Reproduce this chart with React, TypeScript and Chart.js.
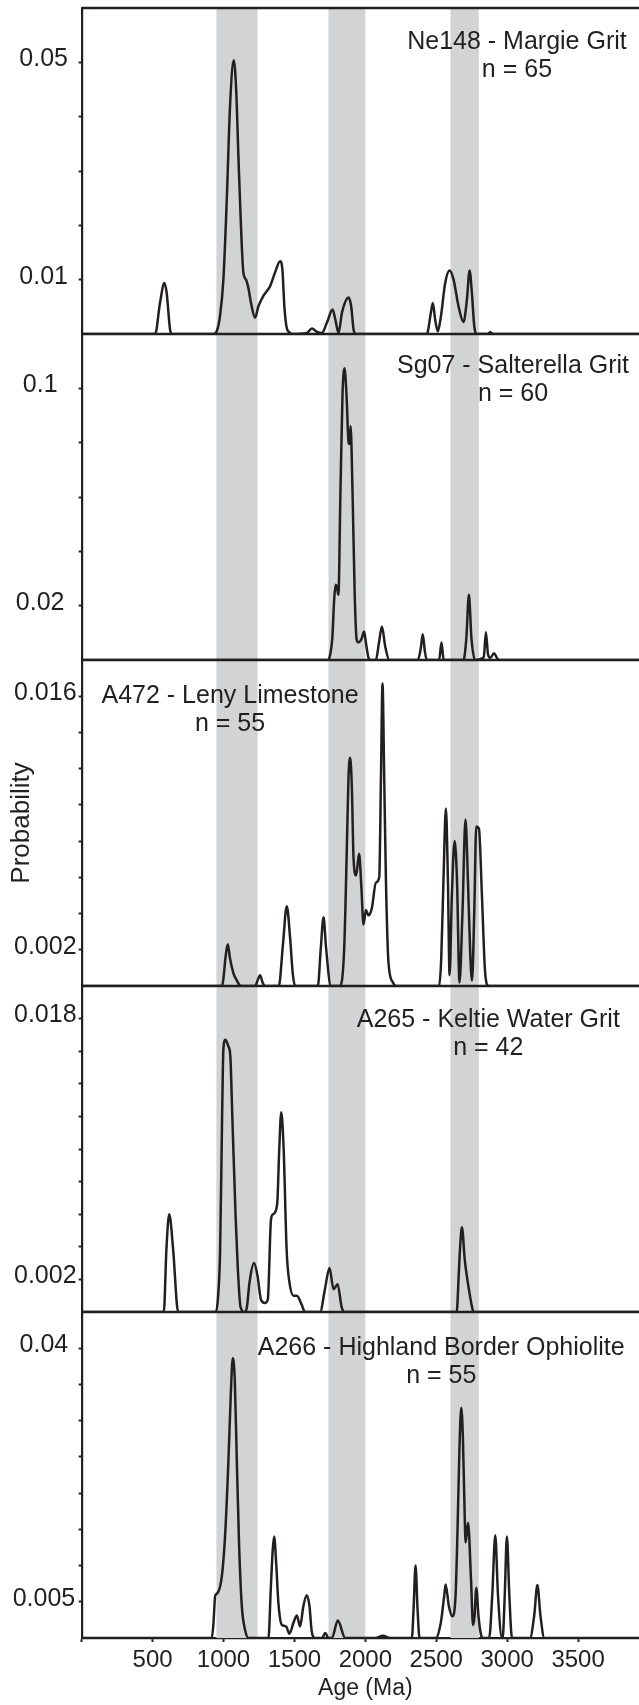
import React, { useEffect, useRef } from 'react';
import { Chart, registerables } from 'chart.js';

Chart.register(...registerables);

const INK = '#231f20';
const BAND_COLOR = '#d1d3d4';
const FONT = '"Liberation Sans", Arial, Helvetica, sans-serif';

// x axis (Age, Ma)
const ageTicks = [0, 500, 1000, 1500, 2000, 2500, 3000, 3500];
const ageMax = 4000;
// shaded age bands [from, to]
const bands = [
  [950, 1240],
  [1740, 2000],
  [2600, 2800],
];

// samples
const sampleNames = [
  'Ne148 - Margie Grit',
  'Sg07 - Salterella Grit',
  'A472 - Leny Limestone',
  'A265 - Keltie Water Grit',
  'A266 - Highland Border Ophiolite',
];
const sampleCounts = [65, 60, 55, 42, 55];

// y ranges and ticks per panel
const panelMax = [0.06, 0.12, 0.018, 0.02, 0.045];
const ne148Ticks = [0.01, 0.02, 0.03, 0.04, 0.05];
const sg07Ticks = [0.02, 0.04, 0.06, 0.08, 0.1];
const a472Ticks = [0.002, 0.004, 0.006, 0.008, 0.01, 0.012, 0.014, 0.016];
const a265Ticks = [0.002, 0.004, 0.006, 0.008, 0.01, 0.012, 0.014, 0.016, 0.018];
const a266Ticks = [0.005, 0.01, 0.015, 0.02, 0.025, 0.03, 0.035, 0.04];
const panelTicks = [ne148Ticks, sg07Ticks, a472Ticks, a265Ticks, a266Ticks];
const labeledTicks = [
  [0.01, 0.05],
  [0.02, 0.1],
  [0.002, 0.016],
  [0.002, 0.018],
  [0.005, 0.04],
];
// label alignment per panel (how the tick labels sit in the left margin)
const labelAlign = ['near', 'center', 'far', 'far', 'center'];
const labelPadding = [10.7, 14.2, 4, 4, 3.5];

// probability density curves: [age (Ma), probability]
const ne148 = [
  [0, 0], [500, 0], [518, 0], [552, 0.0057], [583, 0.0094], [599, 0.0076], [623, 0.0008], [635, 0],
  [930, 0], [952, 0.0005], [975, 0.0033], [999, 0.01], [1023, 0.0248], [1046, 0.042], [1072, 0.0504],
  [1089, 0.045], [1105, 0.0327], [1122, 0.0205], [1140, 0.0113], [1159, 0.01], [1175, 0.0085],
  [1194, 0.0057], [1222, 0.003], [1246, 0.0051], [1281, 0.007], [1328, 0.0088], [1363, 0.0113],
  [1399, 0.0134], [1415, 0.0119], [1429, 0.0051], [1446, 0.0011], [1470, 0.0002], [1480, 0],
  [1588, 0.0002], [1623, 0.001], [1658, 0.0004], [1694, 0.0002], [1729, 0.0021], [1769, 0.0045],
  [1788, 0.0027], [1811, 0.0002], [1835, 0.0039], [1882, 0.0067], [1900, 0.0051], [1917, 0.0008],
  [1933, 0], [2430, 0], [2438, 0.0002], [2462, 0.0039], [2476, 0.0057], [2492, 0.0027], [2511, 0.0005],
  [2533, 0.0033], [2563, 0.0094], [2594, 0.0117], [2622, 0.01], [2657, 0.0051], [2692, 0.0022],
  [2716, 0.0063], [2735, 0.0117], [2751, 0.0076], [2768, 0.0014], [2787, 0], [2860, 0], [2881, 0.0003],
  [2900, 0], [4000, 0],
];

const sg07 = [
  [0, 0], [1738, 0], [1752, 0.002], [1767, 0.008], [1780, 0.022], [1790, 0.0277], [1799, 0.027],
  [1810, 0.024], [1824, 0.0609], [1839, 0.0978], [1853, 0.1074], [1867, 0.0978], [1882, 0.08],
  [1889, 0.0795], [1896, 0.0861], [1910, 0.0609], [1925, 0.024], [1939, 0.0074], [1953, 0.0065],
  [1975, 0.008], [1991, 0.0105], [2005, 0.006], [2022, 0.0008], [2035, 0], [2074, 0], [2095, 0.006],
  [2117, 0.0123], [2140, 0.005], [2169, 0], [2370, 0], [2390, 0.004], [2405, 0.0095], [2420, 0.003],
  [2434, 0], [2520, 0], [2537, 0.0064], [2552, 0], [2692, 0], [2712, 0.008], [2730, 0.024],
  [2748, 0.008], [2773, 0], [2835, 0.001], [2850, 0.0102], [2865, 0.002], [2880, 0.0008],
  [2908, 0.0025], [2930, 0.0005], [2945, 0], [4000, 0],
];

const a472 = [
  [0, 0], [990, 0], [999, 0.0004], [1016, 0.0017], [1030, 0.0023], [1046, 0.0015], [1070, 0.0007],
  [1094, 0.0003], [1122, 0], [1223, 0], [1240, 0.0003], [1258, 0.0006], [1275, 0.0002], [1293, 0],
  [1390, 0], [1418, 0.0022], [1446, 0.0044], [1470, 0.0026], [1488, 0.0007], [1505, 0], [1665, 0],
  [1686, 0.0021], [1705, 0.0038], [1723, 0.0021], [1757, 0], [1822, 0], [1851, 0.0021], [1870, 0.0078],
  [1881, 0.0115], [1893, 0.0126], [1905, 0.0109], [1917, 0.007], [1935, 0.0061], [1956, 0.0073],
  [1971, 0.0056], [1987, 0.0034], [2004, 0.0042], [2022, 0.0039], [2046, 0.0043], [2074, 0.0057],
  [2098, 0.006], [2110, 0.0115], [2121, 0.0167], [2133, 0.0115], [2145, 0.0059], [2163, 0.0013],
  [2194, 0.0002], [2216, 0], [2520, 0], [2535, 0.0015], [2551, 0.0059], [2568, 0.0098], [2582, 0.0059],
  [2594, 0.0006], [2610, 0.005], [2629, 0.008], [2646, 0.0059], [2664, 0.0002], [2685, 0.0041],
  [2706, 0.0092], [2723, 0.0059], [2739, 0.0019], [2752, 0.0003], [2768, 0.0041], [2782, 0.0088],
  [2801, 0.0087], [2822, 0.005], [2845, 0.0007], [2869, 0], [4000, 0],
];

const a265 = [
  [0, 0], [579, 0], [597, 0.0038], [617, 0.006], [645, 0.0038], [680, 0], [947, 0], [962, 0.001],
  [976, 0.0038], [990, 0.012], [999, 0.0161], [1013, 0.0167], [1034, 0.0163], [1048, 0.0157],
  [1062, 0.012], [1085, 0.0059], [1100, 0.0028], [1120, 0.0003], [1149, 0], [1165, 0.0003],
  [1183, 0.0018], [1215, 0.003], [1240, 0.0022], [1264, 0.00075], [1292, 0.00055], [1312, 0.00075],
  [1335, 0.0057], [1350, 0.006], [1378, 0.0066], [1393, 0.01], [1407, 0.01225], [1424, 0.01],
  [1445, 0.0038], [1465, 0.0018], [1494, 0.001], [1517, 0.001], [1551, 0.00045], [1575, 0], [1681, 0],
  [1715, 0.0014], [1747, 0.0027], [1776, 0.0014], [1804, 0.0017], [1833, 0.0003], [1853, 0], [2644, 0],
  [2658, 0.0022], [2667, 0.0038], [2681, 0.0052], [2701, 0.0032], [2730, 0.0014], [2758, 0.0001],
  [2767, 0], [4000, 0],
];

const a266 = [
  [0, 0], [917, 0], [929, 0.002], [941, 0.0058], [957, 0.0062], [988, 0.0085], [1011, 0.0141],
  [1034, 0.0242], [1051, 0.0335], [1065, 0.0386], [1079, 0.0358], [1094, 0.0242], [1110, 0.0127],
  [1129, 0.0044], [1152, 0.0011], [1176, 0], [1317, 0], [1333, 0.0067], [1347, 0.0122], [1357, 0.014],
  [1371, 0.0104], [1387, 0.0048], [1411, 0.0018], [1441, 0.0016], [1465, 0.0006], [1493, 0.0021],
  [1517, 0.0031], [1540, 0.0016], [1563, 0.0044], [1587, 0.0059], [1606, 0.0044], [1622, 0.0009],
  [1646, 0], [1695, 0], [1717, 0.0007], [1740, 0], [1764, 0], [1806, 0.0024], [1858, 0], [2070, 0],
  [2124, 0.0003], [2175, 0], [2328, 0], [2340, 0.004], [2354, 0.01], [2368, 0.004], [2382, 0],
  [2497, 0], [2532, 0.0021], [2556, 0.0058], [2566, 0.0074], [2589, 0.0044], [2613, 0.003],
  [2636, 0.0058], [2650, 0.015], [2664, 0.0265], [2676, 0.0318], [2688, 0.0275], [2700, 0.0173],
  [2707, 0.0132], [2724, 0.0159], [2745, 0.0081], [2759, 0.0018], [2770, 0.003], [2782, 0.0069],
  [2798, 0.003], [2815, 0.0005], [2830, 0], [2873, 0], [2895, 0.006], [2916, 0.0142], [2935, 0.006],
  [2963, 0], [2968, 0], [2983, 0.006], [2998, 0.014], [3015, 0.006], [3034, 0], [3161, 0],
  [3190, 0.003], [3213, 0.0073], [3235, 0.003], [3262, 0], [4000, 0],
];

const curves = [ne148, sg07, a472, a265, a266];

// where each sample's caption is anchored (age, probability of first line baseline)
const captionAnchors = [
  [3069, 0.0524],
  [3041, 0.1058],
  [1046, 0.0156],
  [2867, 0.01748],
  [2535, 0.0391],
];

const yIds = ['y1', 'y2', 'y3', 'y4', 'y5'];

const decorPlugin = {
  id: 'panelDecor',
  beforeDatasetsDraw(chart: any) {
    const { ctx, chartArea } = chart;
    const xs = chart.scales.x;
    ctx.save();
    ctx.fillStyle = BAND_COLOR;
    for (const [a, b] of bands) {
      const x0 = xs.getPixelForValue(a);
      const x1 = xs.getPixelForValue(b);
      ctx.fillRect(x0, chartArea.top, x1 - x0, chartArea.bottom - chartArea.top);
    }
    ctx.strokeStyle = INK;
    ctx.lineWidth = 2.4;
    for (const id of yIds) {
      const s = chart.scales[id];
      ctx.beginPath();
      ctx.moveTo(chartArea.left, s.top);
      ctx.lineTo(chartArea.right, s.top);
      ctx.stroke();
    }
    ctx.restore();
  },
  afterDatasetsDraw(chart: any) {
    const { ctx } = chart;
    const xs = chart.scales.x;
    ctx.save();
    ctx.fillStyle = INK;
    ctx.font = `25px ${FONT}`;
    ctx.textAlign = 'center';
    ctx.textBaseline = 'alphabetic';
    captionAnchors.forEach(([age, p], i) => {
      const ys = chart.scales[yIds[i]];
      const x = xs.getPixelForValue(age);
      const y = ys.getPixelForValue(p);
      ctx.fillText(sampleNames[i], x, y);
      ctx.fillText(`n = ${sampleCounts[i]}`, x, y + 28);
    });
    ctx.restore();
  },
};

function makeYScale(i: number) {
  const max = panelMax[i];
  return {
    type: 'linear',
    position: 'left',
    stack: 'panels',
    stackWeight: 1,
    weight: 5 - i,
    min: 0,
    max,
    afterBuildTicks: (scale: any) => {
      scale.ticks = [0, ...panelTicks[i], max].map((v) => ({ value: v }));
    },
    afterFit: (scale: any) => {
      scale.width = 67.7;
      scale.paddingTop = 0;
      scale.paddingBottom = 0;
    },
    ticks: {
      callback: (v: number) => {
        if (Math.abs(v) < 1e-12 || Math.abs(v - max) < 1e-12) return null;
        const hit = labeledTicks[i].find((l) => Math.abs(l - v) < 1e-9);
        return hit !== undefined ? String(hit) : '';
      },
      crossAlign: labelAlign[i],
      padding: labelPadding[i],
      labelOffset: -3,
      color: INK,
      font: { family: FONT, size: 25 },
      autoSkip: false,
    },
    grid: {
      display: true,
      drawOnChartArea: false,
      drawTicks: true,
      tickLength: 3,
      tickWidth: 2,
      tickColor: INK,
      color: INK,
    },
    border: { display: true, color: INK, width: 2.2 },
    title:
      i === 2
        ? {
            display: true,
            text: 'Probability',
            color: INK,
            font: { family: FONT, size: 26, lineHeight: 0.62 },
            padding: 0,
          }
        : { display: false },
  };
}

export default function App() {
  const ref = useRef<HTMLCanvasElement | null>(null);

  useEffect(() => {
    document.body.style.margin = '0';
    const canvas = ref.current;
    if (!canvas) return;
    const scales: any = {
      x: {
        type: 'linear',
        position: 'bottom',
        min: 0,
        max: ageMax,
        afterBuildTicks: (scale: any) => {
          scale.ticks = ageTicks.map((v) => ({ value: v }));
        },
        afterFit: (scale: any) => {
          scale.height = 67;
          scale.paddingLeft = 0;
          scale.paddingRight = 0;
        },
        ticks: {
          callback: (v: number) => (v === 0 ? '' : String(v)),
          padding: 4,
          color: INK,
          font: { family: FONT, size: 24 },
          maxRotation: 0,
          autoSkip: false,
        },
        grid: {
          display: true,
          drawOnChartArea: false,
          drawTicks: true,
          tickLength: 4,
          tickWidth: 2,
          tickColor: INK,
        },
        border: { display: true, color: INK, width: 2.2 },
        title: {
          display: true,
          text: 'Age (Ma)',
          color: INK,
          font: { family: FONT, size: 23 },
          padding: { top: 0, bottom: 2.5 },
        },
      },
    };
    yIds.forEach((id, i) => {
      scales[id] = makeYScale(i);
    });

    const chart = new Chart(canvas, {
      type: 'line',
      data: {
        datasets: curves.map((c, i) => ({
          label: sampleNames[i],
          data: c.map(([x, y]) => ({ x, y })),
          xAxisID: 'x',
          yAxisID: yIds[i],
          borderColor: INK,
          borderWidth: 2.5,
          pointRadius: 0,
          fill: false,
          cubicInterpolationMode: 'monotone',
        })),
      },
      options: {
        responsive: false,
        animation: false,
        devicePixelRatio: 1,
        layout: { padding: { left: 14, top: 8, right: 0, bottom: 0 } },
        plugins: {
          legend: { display: false },
          tooltip: { enabled: false },
          title: { display: false },
        },
        events: [],
        scales,
      } as any,
      plugins: [decorPlugin],
    });
    return () => chart.destroy();
  }, []);

  return (
    <div
      style={{
        position: 'absolute',
        left: 0,
        top: 0,
        width: 639,
        height: 1705,
        overflow: 'hidden',
        background: '#ffffff',
      }}
    >
      <canvas ref={ref} width={649} height={1705} style={{ display: 'block' }} />
    </div>
  );
}
